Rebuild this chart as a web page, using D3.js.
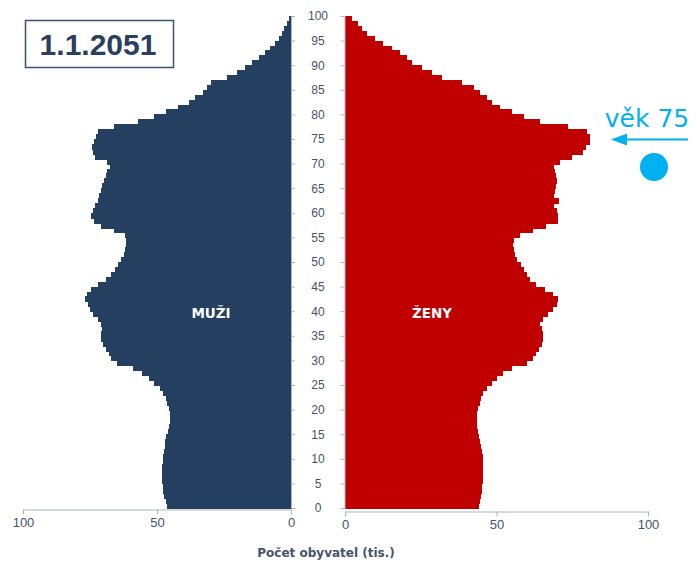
<!DOCTYPE html>
<html>
<head>
<meta charset="utf-8">
<script src="https://cdn.jsdelivr.net/npm/d3@7"></script>
<style>
  body { margin: 0; background: #fff; }
  svg { display: block; font-family: "Liberation Sans", Arial, sans-serif; }
</style>
</head>
<body>
<script>
  // ages 0..99, one bar per year
  const ages = d3.range(0, 100);

  // thousands of men by age
  const male = [
    46.3, 46.8, 47.3, 47.6, 47.8, 48.0, 48.1, 48.1, 48.0, 47.9,
    47.7, 47.5, 47.2, 46.9, 46.5, 46.0, 45.6, 45.3, 45.2, 45.2,
    45.6, 46.1, 46.8, 47.6, 49.0, 51.0, 53.0, 55.5, 59.0, 65.0,
    67.0, 68.0, 69.0, 70.0, 70.8, 71.0, 70.5, 70.8, 72.0, 74.0,
    75.0, 75.7, 76.9, 76.0, 74.5, 72.0, 69.0, 67.0, 65.5, 64.5,
    63.5, 62.5, 62.0, 61.7, 61.7, 62.0, 66.0, 71.0, 73.5, 74.5,
    74.0, 73.0, 72.2, 71.6, 71.0, 70.4, 69.8, 69.0, 68.5, 67.5,
    68.5, 73.0, 74.0, 74.1, 73.5, 72.8, 72.0, 66.0, 57.0, 51.0,
    46.5, 42.0, 38.0, 36.0, 33.0, 31.2, 29.8, 24.0, 20.0, 17.0,
    14.5, 12.0, 9.8, 8.0, 6.0, 4.6, 3.5, 2.5, 1.6, 0.8
  ];

  // thousands of women by age
  const female = [
    44.3, 44.6, 44.9, 45.1, 45.3, 45.5, 45.6, 45.6, 45.6, 45.5,
    45.4, 45.3, 45.0, 44.6, 44.2, 43.9, 43.6, 43.5, 43.5, 43.7,
    44.0, 44.5, 45.0, 45.7, 47.0, 48.5, 50.0, 52.0, 55.0, 60.0,
    62.0, 63.0, 64.0, 64.9, 65.5, 65.3, 64.9, 64.4, 65.5, 67.0,
    68.5, 70.0, 70.4, 68.5, 66.0, 63.0, 61.0, 60.0, 59.0, 58.0,
    56.7, 56.2, 55.8, 55.5, 55.8, 57.8, 62.0, 66.5, 70.2, 70.4,
    69.9, 69.0, 70.6, 69.0, 69.3, 69.5, 69.9, 69.6, 69.3, 69.0,
    71.0, 75.0, 78.5, 79.5, 80.7, 81.0, 80.0, 73.5, 64.5, 59.0,
    55.0, 51.0, 48.4, 46.8, 44.5, 42.5, 38.5, 32.0, 28.6, 25.3,
    22.0, 20.4, 18.2, 15.4, 12.7, 9.9, 7.1, 5.5, 4.2, 2.2
  ];

  const ageTicks = d3.range(0, 101, 5);
  const popTicks = [0, 50, 100];

  const title = "1.1.2051";
  const maleLabel = "MUŽI";
  const femaleLabel = "ŽENY";
  const xTitle = "Počet obyvatel (tis.)";
  const note = "věk 75";

  const navy = "#243f60";
  const red = "#c00000";
  const cyan = "#00b0f0";
  const axisColor = "#a9b4c2";
  const labelColor = "#44546a";

  const svg = d3.select("body").append("svg")
    .attr("width", 697)
    .attr("height", 563);

  // scales: left and right halves are not equally wide in the original
  const yAge = d3.scaleLinear().domain([0, 100]).range([508, 16]);
  const xMale = d3.scaleLinear().domain([0, 100]).range([291, 23]);
  const xFemale = d3.scaleLinear().domain([0, 100]).range([345, 648]);

  // male bars (a little overlap so no seams show between years)
  svg.append("g")
    .attr("shape-rendering", "crispEdges")
    .selectAll("rect")
    .data(ages)
    .enter()
    .append("rect")
      .attr("x", (a) => xMale(male[a]))
      .attr("width", (a) => xMale(0) - xMale(male[a]))
      .attr("y", (a) => yAge(a + 1))
      .attr("height", (a) => yAge(a) - yAge(a + 1) + 1)
      .attr("fill", navy);

  // female bars
  svg.append("g")
    .attr("shape-rendering", "crispEdges")
    .selectAll("rect")
    .data(ages)
    .enter()
    .append("rect")
      .attr("x", xFemale(0))
      .attr("width", (a) => xFemale(female[a]) - xFemale(0))
      .attr("y", (a) => yAge(a + 1))
      .attr("height", (a) => yAge(a) - yAge(a + 1) + 1)
      .attr("fill", red);

  // age axis, left side with centred labels
  let ageLeft = svg.append("g")
    .attr("transform", "translate(291, 0)")
    .call(d3.axisRight(yAge).tickValues(ageTicks).tickSize(4).tickSizeOuter(0));
  ageLeft.selectAll("text")
    .attr("x", 27)
    .attr("text-anchor", "middle")
    .attr("fill", labelColor)
    .style("font-size", "12px");

  // age axis, right side (ticks only)
  svg.append("g")
    .attr("transform", "translate(344.5, 0)")
    .call(d3.axisLeft(yAge).tickValues(ageTicks).tickSize(4).tickSizeOuter(0).tickFormat(""));

  // population axes
  let maleAxis = svg.append("g")
    .attr("transform", "translate(0, 509.5)")
    .call(d3.axisBottom(xMale).tickValues(popTicks).tickSize(5).tickSizeOuter(0));
  let femaleAxis = svg.append("g")
    .attr("transform", "translate(0, 511.5)")
    .call(d3.axisBottom(xFemale).tickValues(popTicks).tickSize(5).tickSizeOuter(0));

  [maleAxis, femaleAxis].forEach((g) => {
    g.selectAll("text")
      .attr("fill", labelColor)
      .style("font-size", "13px");
  });

  svg.selectAll(".domain, .tick line")
    .attr("stroke", axisColor);

  svg.append("text")
    .attr("x", 326)
    .attr("y", 557)
    .attr("text-anchor", "middle")
    .attr("fill", labelColor)
    .style("font-family", "'DejaVu Sans', sans-serif")
    .style("font-size", "12px")
    .style("font-weight", "bold")
    .text(xTitle);

  // labels inside the bars
  svg.append("text")
    .attr("x", 211)
    .attr("y", 318)
    .attr("text-anchor", "middle")
    .attr("fill", "#fff")
    .style("font-family", "'DejaVu Sans', sans-serif")
    .style("font-size", "13.5px")
    .style("font-weight", "bold")
    .text(maleLabel);

  svg.append("text")
    .attr("x", 432)
    .attr("y", 318)
    .attr("text-anchor", "middle")
    .attr("fill", "#fff")
    .style("font-family", "'DejaVu Sans', sans-serif")
    .style("font-size", "13.5px")
    .style("font-weight", "bold")
    .text(femaleLabel);

  // date box
  svg.append("rect")
    .attr("x", 25.5)
    .attr("y", 20.5)
    .attr("width", 148)
    .attr("height", 47)
    .attr("fill", "#fff")
    .attr("stroke", "#3f5272")
    .attr("stroke-width", 1.5);

  svg.append("text")
    .attr("x", 98)
    .attr("y", 55)
    .attr("text-anchor", "middle")
    .attr("fill", "#2b3e5c")
    .style("font-size", "30px")
    .style("font-weight", "bold")
    .text(title);

  // annotation for age 75
  svg.append("text")
    .attr("x", 647)
    .attr("y", 127)
    .attr("text-anchor", "middle")
    .attr("fill", cyan)
    .style("font-family", "'DejaVu Sans', sans-serif")
    .style("font-size", "25px")
    .text(note);

  svg.append("line")
    .attr("x1", 688)
    .attr("x2", 622)
    .attr("y1", yAge(75.5) + 3)
    .attr("y2", yAge(75.5) + 3)
    .attr("stroke", cyan)
    .attr("stroke-width", 2);

  svg.append("path")
    .attr("d", d3.line()([[611, yAge(75.5) + 3], [627, yAge(75.5) - 3], [627, yAge(75.5) + 9]]))
    .attr("fill", cyan);

  svg.append("circle")
    .attr("cx", 654)
    .attr("cy", 167)
    .attr("r", 14)
    .attr("fill", cyan);
</script>
</body>
</html>
